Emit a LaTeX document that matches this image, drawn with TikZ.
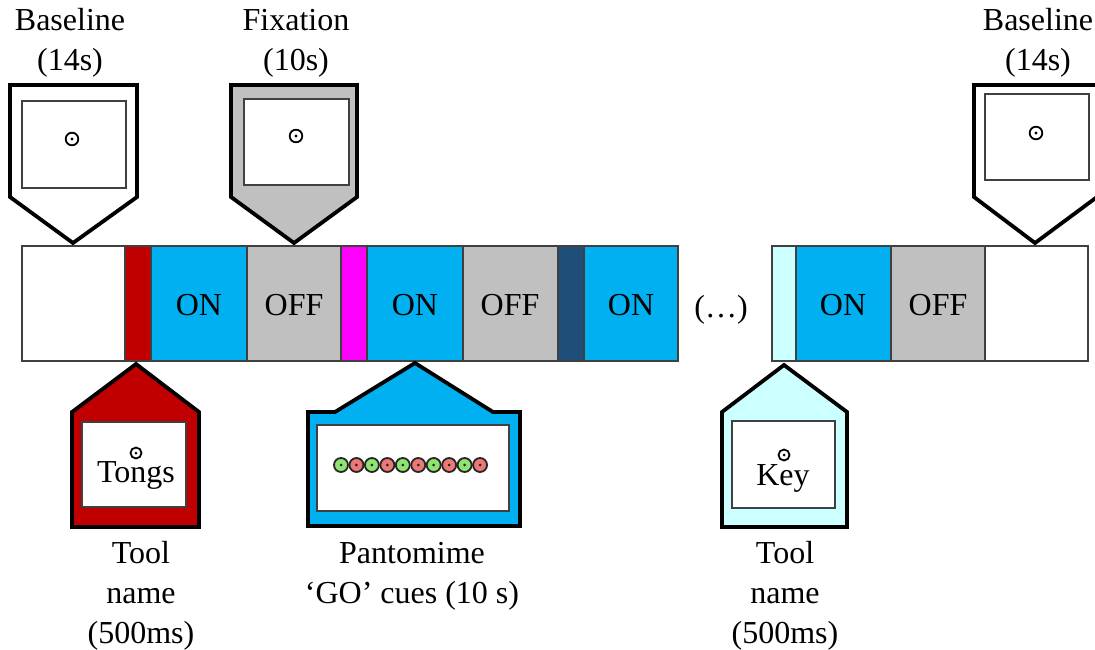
\documentclass[tikz,border=0pt]{standalone}
\usepackage{fontspec}
\setmainfont{Liberation Serif}
\definecolor{onblue}{HTML}{00B0F0}
\definecolor{offgray}{HTML}{C0C0C0}
\definecolor{toolred}{HTML}{C00000}
\definecolor{cuemag}{HTML}{FF00FF}
\definecolor{navyblock}{HTML}{1F4E79}
\definecolor{paleCyan}{HTML}{CCFFFF}
\definecolor{cuegreen}{HTML}{8FE36F}
\definecolor{cuered}{HTML}{EE7777}
\begin{document}
\begin{tikzpicture}[x=1pt,y=-1pt,
  seg/.style={draw=black!75,line width=1.3pt},
  callout/.style={draw=black,line width=3.8pt,line join=miter},
  screen/.style={draw=black!75,fill=white,line width=1.5pt},
  lbl/.style={font=\fontsize{32}{40}\selectfont,align=center,inner sep=0pt},
  fixdot/.style={draw=black,line width=1.8pt,fill=white},
  cue/.style={draw=black!85,line width=1.8pt}]
\useasboundingbox (0,0) rectangle (1095,650);

% ---- timeline bar, first part ----
\path[seg,fill=white]     (22,246)  rectangle (125,361);
\path[seg,fill=toolred]   (125,246) rectangle (151,361);
\path[seg,fill=onblue]    (151,246) rectangle (247,361);
\path[seg,fill=offgray]   (247,246) rectangle (341,361);
\path[seg,fill=cuemag]    (341,246) rectangle (367,361);
\path[seg,fill=onblue]    (367,246) rectangle (463,361);
\path[seg,fill=offgray]   (463,246) rectangle (558,361);
\path[seg,fill=navyblock] (558,246) rectangle (584,361);
\path[seg,fill=onblue]    (584,246) rectangle (678,361);
% ---- timeline bar, second part ----
\path[seg,fill=paleCyan]  (772,246) rectangle (796,361);
\path[seg,fill=onblue]    (796,246) rectangle (891,361);
\path[seg,fill=offgray]   (891,246) rectangle (985,361);
\path[seg,fill=white]     (985,246) rectangle (1088,361);

\node[lbl] (on1)  at (199,305) {ON};
\node[lbl] (off1) at (294,305) {OFF};
\node[lbl] (on2)  at (415,305) {ON};
\node[lbl] (off2) at (510,305) {OFF};
\node[lbl] (on3)  at (631,305) {ON};
\node[lbl] (dots) at (721,310) {(…)};
\node[lbl] (on4)  at (843,305) {ON};
\node[lbl] (off4) at (938,305) {OFF};

% ---- top callouts ----
\path[callout,fill=white] (10,85) -- (137,85) -- (137,197) -- (73,243) -- (10,197) -- cycle;
\path[screen] (22,101) rectangle (126,188);
\path[fixdot] (72,139) circle (6.3);
\fill (72,139) circle (1.6);
\node[lbl] (base1) at (70,43) {Baseline\\(14s)};

\path[callout,fill=offgray] (231,85) -- (357,85) -- (357,197) -- (294,243) -- (231,197) -- cycle;
\path[screen] (244,99) rectangle (349,185);
\path[fixdot] (296,136) circle (6.3);
\fill (296,136) circle (1.6);
\node[lbl] (fix) at (296,43) {Fixation\\(10s)};

\path[callout,fill=white] (974,85) -- (1097,85) -- (1097,197) -- (1035,243) -- (974,197) -- cycle;
\path[screen] (985,94) rectangle (1089,180);
\path[fixdot] (1036,133) circle (6.3);
\fill (1036,133) circle (1.6);
\node[lbl] (base2) at (1038,43) {Baseline\\(14s)};

% ---- bottom callouts ----
\path[callout,fill=toolred] (136,364) -- (199,412) -- (199,527) -- (72,527) -- (72,412) -- cycle;
\path[screen] (82,422) rectangle (186,507);
\path[fixdot] (136,453) circle (5.5);
\fill (136,453) circle (1.5);
\node[lbl] (tongs) at (136,475) {Tongs};
\node[lbl] (tool1) at (141,596) {Tool\\name\\(500ms)};

\path[callout,fill=onblue] (415,363) -- (493,412) -- (520,412) -- (520,526) -- (308,526) -- (308,412) -- (335,412) -- cycle;
\path[screen] (317,425) rectangle (509,511);
\foreach \i in {0,...,9}{
  \pgfmathsetmacro{\cx}{341+\i*15.45}
  \ifodd\i
    \path[cue,fill=cuered] (\cx,465) circle (7);
  \else
    \path[cue,fill=cuegreen] (\cx,465) circle (7);
  \fi
  \fill[black!85] (\cx,465) circle (1.5);
}
\node[lbl] (panto) at (412,576) {Pantomime\\‘GO’ cues (10 s)};

\path[callout,fill=paleCyan] (784,365) -- (847,412) -- (847,527) -- (722,527) -- (722,412) -- cycle;
\path[screen] (732,421) rectangle (835,508);
\path[fixdot] (784,455) circle (5.5);
\fill (784,455) circle (1.5);
\node[lbl] (key) at (783,478) {Key};
\node[lbl] (tool2) at (785,596) {Tool\\name\\(500ms)};
\end{tikzpicture}
\end{document}
